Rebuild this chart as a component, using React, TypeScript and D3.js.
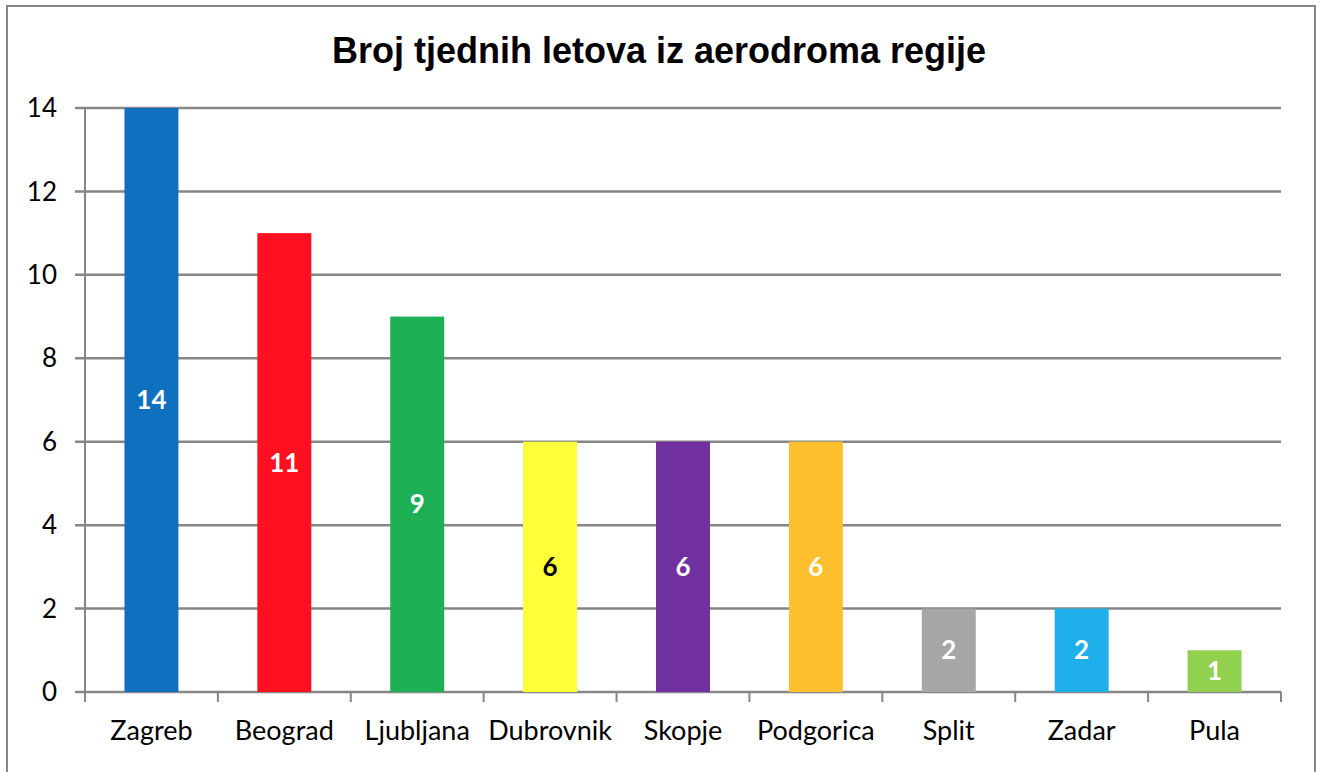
import React, { useEffect, useRef } from 'react';
import * as d3 from 'd3';

const cities = ['Zagreb', 'Beograd', 'Ljubljana', 'Dubrovnik', 'Skopje', 'Podgorica', 'Split', 'Zadar', 'Pula'];
const flights = [14, 11, 9, 6, 6, 6, 2, 2, 1];
const barColors = ['#1070C0', '#FF1020', '#1DB054', '#FFFF3A', '#7030A0', '#FFC030', '#A6A6A6', '#1FB0EC', '#92D050'];
const labelColors = ['#fff', '#fff', '#fff', '#000', '#fff', '#fff', '#fff', '#fff', '#fff'];
const yTicks = [0, 2, 4, 6, 8, 10, 12, 14];

const App: React.FC = () => {
  const svgRef = useRef<SVGSVGElement>(null);

  useEffect(() => {
    if (!svgRef.current) return;
    const svg = d3.select(svgRef.current);
    svg.selectAll('*').remove();

    const W = 1324, H = 772;
    const left = 85, right = 1281, top = 108, bottom = 692;
    const gridColor = '#868686';
    const font = 'Lato, "Open Sans", sans-serif';

    // outer frame
    svg.append('rect')
      .attr('x', 7).attr('y', 6)
      .attr('width', 1308).attr('height', 780)
      .attr('fill', '#fff')
      .attr('stroke', gridColor)
      .attr('stroke-width', 2);

    svg.append('text')
      .attr('x', 659).attr('y', 63)
      .attr('text-anchor', 'middle')
      .style('font-family', '"Liberation Sans", Arial, sans-serif')
      .style('font-weight', 'bold')
      .style('font-size', '36px')
      .text('Broj tjednih letova iz aerodroma regije');

    const x = d3.scaleBand().domain(cities).range([left, right]).padding(0);
    const y = d3.scaleLinear().domain([0, 14]).range([bottom, top]);
    const barW = x.bandwidth() * 0.406;

    // gridlines
    svg.append('g')
      .selectAll('line')
      .data(yTicks)
      .join('line')
      .attr('x1', left - 10).attr('x2', right)
      .attr('y1', d => y(d)).attr('y2', d => y(d))
      .attr('stroke', gridColor).attr('stroke-width', 2.5);

    // y axis line
    svg.append('line')
      .attr('x1', left).attr('x2', left)
      .attr('y1', top).attr('y2', bottom)
      .attr('stroke', gridColor).attr('stroke-width', 2);

    // x ticks
    const bounds = cities.map(c => x(c)!).concat([right]);
    svg.append('g')
      .selectAll('line')
      .data(bounds)
      .join('line')
      .attr('x1', d => d).attr('x2', d => d)
      .attr('y1', bottom).attr('y2', bottom + 10)
      .attr('stroke', gridColor).attr('stroke-width', 2);

    // y tick labels
    svg.append('g')
      .selectAll('text')
      .data(yTicks)
      .join('text')
      .attr('x', 57).attr('y', d => y(d))
      .attr('dy', '0.35em')
      .attr('text-anchor', 'end')
      .style('font-family', font)
      .style('font-size', '26px')
      .text(d => d);

    // bars
    const data = cities.map((c, i) => ({ city: c, value: flights[i], color: barColors[i], label: labelColors[i] }));
    svg.append('g')
      .selectAll('rect')
      .data(data)
      .join('rect')
      .attr('x', d => x(d.city)! + x.bandwidth() / 2 - barW / 2)
      .attr('y', d => y(d.value))
      .attr('width', barW)
      .attr('height', d => bottom - y(d.value))
      .attr('fill', d => d.color);

    // value labels
    svg.append('g')
      .selectAll('text')
      .data(data)
      .join('text')
      .attr('x', d => x(d.city)! + x.bandwidth() / 2)
      .attr('y', d => (y(d.value) + bottom) / 2)
      .attr('dy', '0.35em')
      .attr('text-anchor', 'middle')
      .attr('fill', d => d.label)
      .style('font-family', font)
      .style('font-weight', 'bold')
      .style('font-size', '26px')
      .text(d => d.value);

    // category labels
    svg.append('g')
      .selectAll('text')
      .data(cities)
      .join('text')
      .attr('x', d => x(d)! + x.bandwidth() / 2)
      .attr('y', 731)
      .attr('dy', '0.35em')
      .attr('text-anchor', 'middle')
      .style('font-family', font)
      .style('font-size', '27px')
      .text(d => d);

    svg.attr('width', W).attr('height', H);
  }, []);

  return <svg ref={svgRef} style={{ position: 'absolute', left: 0, top: 0, display: 'block' }}></svg>;
};

export default App;
